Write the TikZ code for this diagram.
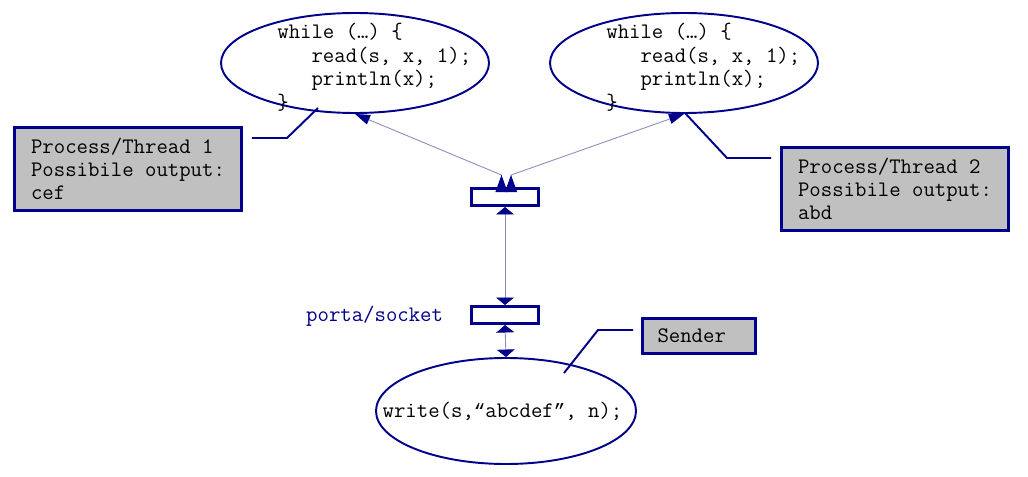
\documentclass[tikz,border=0pt]{standalone}
\usepackage{fontspec}
\newfontfamily\quotefont{Liberation Mono}
\usetikzlibrary{arrows.meta,shapes.geometric,calc}
\definecolor{navy}{RGB}{0,0,139}
\definecolor{boxgray}{RGB}{192,192,192}
\definecolor{wire}{RGB}{140,140,190}

\begin{document}
\begin{tikzpicture}[scale=1,>={Triangle[width=0.36cm,length=0.15cm,color=navy]},
    every node/.style={font=\ttfamily\fontsize{12.6}{13.3}\selectfont},
    proc/.style={ellipse,draw=navy,line width=1.1pt,inner sep=0pt},
    labelbox/.style={draw=navy,fill=boxgray,line width=1.7pt,align=left},
    port/.style={draw=navy,fill=white,line width=1.7pt,inner sep=0pt,minimum width=1.34cm,minimum height=0.34cm},
    link/.style={draw=wire,line width=0.5pt},
    callout/.style={draw=navy,line width=1.1pt}]

        \useasboundingbox (0,0) rectangle (20.56,9.52);

        % processes
        \node[proc,minimum width=5.36cm,minimum height=2.0cm] (p1) at (7.10,8.26) {};
        \node[proc,minimum width=5.36cm,minimum height=2.0cm] (p2) at (13.68,8.26) {};
        \node[proc,minimum width=5.2cm,minimum height=2.12cm] (p3) at (10.12,1.30) {};
        \node (w3) at (10.05,1.30)
            {write(s,{\quotefont\fontsize{10.9}{13.3}\selectfont “}abcdef{\quotefont\fontsize{10.9}{13.3}\selectfont ”}, n);};
        \node[anchor=base west,align=left,inner sep=0pt] (c1) at (5.54,7.34)
            {while (…) \{\\\phantom{xxx}read(s, x, 1);\\\phantom{xxx}println(x);\\\}};
        \node[anchor=base west,align=left,inner sep=0pt] (c2) at (12.12,7.34)
            {while (…) \{\\\phantom{xxx}read(s, x, 1);\\\phantom{xxx}println(x);\\\}};

        % sockets
        \node[port] (s1) at (10.10,5.58) {};
        \node[port] (s2) at (10.10,3.22) {};
        \node[anchor=base west,text=navy] (pl) at (6.00,3.10) {porta/socket};

        % notes
        \node[labelbox,minimum width=4.54cm,minimum height=1.66cm] (b1) at (2.56,6.14)
            {Process/Thread 1\\Possibile output:\\cef};
        \node[labelbox,minimum width=4.54cm,minimum height=1.66cm] (b2) at (17.90,5.74)
            {Process/Thread 2\\Possibile output:\\abd};
        \node[labelbox,text width=1.66cm,minimum width=2.26cm,minimum height=0.70cm] (snd) at (13.98,2.80) {Sender};

        % links
        \path[link,<->] (s1.south) -- (s2.north);
        \path[link,<->] (s2.south) -- (p3.north);
        \path[link,{Triangle[reversed,width=0.24cm,length=0.34cm,color=navy]}-{Triangle[width=0.2cm,length=0.3cm,color=navy]}]
            ([xshift=-0.07cm,yshift=-0.1cm]s1.north) -- ++(0,0.34) -- (p1.south);
        \path[link,{Triangle[reversed,width=0.24cm,length=0.34cm,color=navy]}-{Triangle[width=0.2cm,length=0.3cm,color=navy]}]
            ([xshift=0.12cm,yshift=-0.1cm]s1.north) -- ++(0,0.34) -- (p2.south);

        % callouts
        \coordinate (k1) at (5.74,6.76);
        \coordinate (t1) at (6.36,7.36);
        \coordinate (k2) at (14.54,6.36);
        \coordinate (t2) at (13.70,7.26);
        \coordinate (k3) at (11.96,2.92);
        \coordinate (t3) at (11.28,2.06);
        \path[callout] ($(b1.north east)+(0.18,-0.24)$) -- (k1) -- (t1);
        \path[callout] ($(b2.north west)+(-0.18,-0.24)$) -- (k2) -- (t2);
        \path[callout] ($(snd.north west)+(-0.16,-0.26)$) -- (k3) -- (t3);
      \end{tikzpicture}
\end{document}
